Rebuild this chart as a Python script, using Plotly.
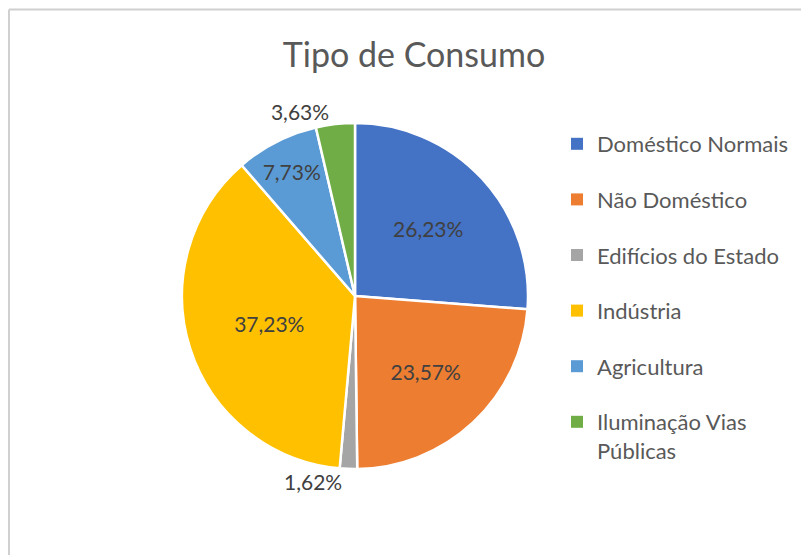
import plotly.graph_objects as go

categories = ["Doméstico Normais", "Não Doméstico", "Edifícios do Estado",
              "Indústria", "Agricultura", "Iluminação Vias Públicas"]
legend_labels = ["Doméstico Normais", "Não Doméstico", "Edifícios do Estado",
                 "Indústria", "Agricultura", "Iluminação Vias<br>Públicas"]
values = [26.23, 23.57, 1.62, 37.23, 7.73, 3.63]
colors = ["#4472C4", "#ED7D31", "#A5A5A5", "#FFC000", "#5B9BD5", "#70AD47"]
positions = ["inside", "inside", "outside", "inside", "inside", "outside"]
labels_text = [f"{v:.2f}%".replace(".", ",") for v in values]

# page has an 8px body margin; figure coordinates are page minus 8
W, H = 801, 547
FONT = "Lato"

cx, cy, r = 347, 288, 173

fig = go.Figure()
fig.add_trace(go.Pie(
    labels=categories, values=values, text=labels_text,
    textinfo="text", textposition=positions,
    insidetextorientation="horizontal",
    sort=False, direction="clockwise", rotation=0,
    marker=dict(colors=colors, line=dict(color="white", width=2.5)),
    textfont=dict(family=FONT, size=21, color="#404040"),
    showlegend=False, hoverinfo="label+percent",
    domain=dict(x=[(cx - r) / W, (cx + r) / W], y=[1 - (cy + r) / H, 1 - (cy - r) / H]),
))

for lab, col, cat in zip(legend_labels, colors, categories):
    fig.add_trace(go.Scatter(
        x=[None], y=[None], mode="markers", name=lab, legendgroup=cat,
        marker=dict(symbol="square", size=8, color=col),
    ))

bx, by = 1 / W, 1 - 1.5 / H
fig.update_layout(
    width=W, height=H,
    margin=dict(l=0, r=0, t=0, b=0),
    paper_bgcolor="white", plot_bgcolor="white",
    title=dict(text="Tipo de Consumo", x=406 / W, xanchor="center",
               y=1 - 47 / H, yanchor="middle",
               font=dict(family=FONT, size=34, color="#595959")),
    xaxis=dict(visible=False), yaxis=dict(visible=False),
    legend=dict(x=549 / W, xanchor="left", y=1 - 115 / H, yanchor="top",
                traceorder="grouped", tracegroupgap=24, valign="top",
                font=dict(family=FONT, size=22, color="#595959"),
                itemsizing="constant"),
    shapes=[
        dict(type="line", xref="paper", yref="paper", x0=bx, x1=1.02, y0=by, y1=by,
             line=dict(color="#D0D0D0", width=2)),
        dict(type="line", xref="paper", yref="paper", x0=bx, x1=bx, y0=by, y1=-0.02,
             line=dict(color="#D0D0D0", width=2)),
    ],
)

fig.write_html("out.html")
